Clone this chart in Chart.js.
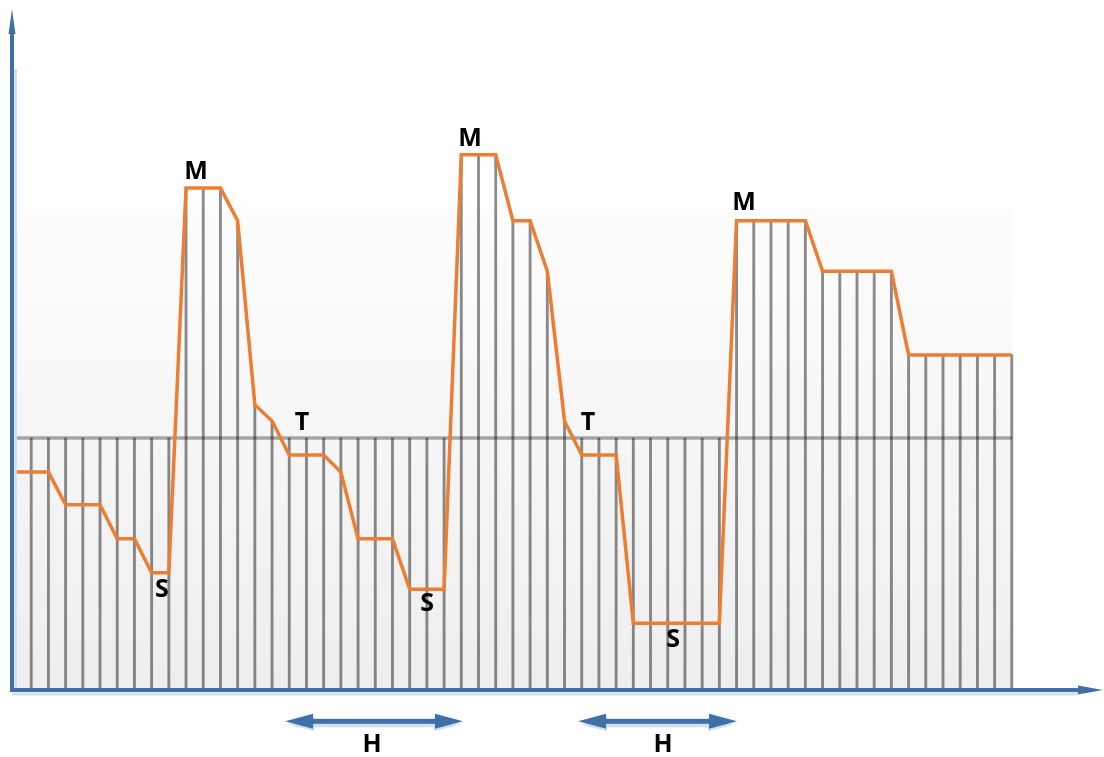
<!DOCTYPE html>
<html>
<head>
<meta charset="utf-8">
<script src="https://cdn.jsdelivr.net/npm/chart.js@4/dist/chart.umd.min.js"></script>
<style>
html,body{margin:0;padding:0;background:#fff;}
#wrap{width:1104px;height:757px;position:relative;}
</style>
</head>
<body>
<div id="wrap"><canvas id="c" width="1104" height="757"></canvas></div>
<script>
// ---- data (x = step index, y = level) ----
const steps = Array.from({length: 59}, (_, i) => i);
const levels = [
  32.0, 32.0, 32.0, 27.2, 27.2, 27.2, 22.2, 22.2, 17.2, 17.2,
  73.7, 73.7, 73.7, 68.9, 41.9, 39.5, 34.5, 34.5, 34.5, 32.0,
  22.2, 22.2, 22.2, 14.8, 14.8, 14.8, 78.6, 78.6, 78.6, 68.9,
  68.9, 61.5, 39.5, 34.5, 34.5, 34.5, 9.8, 9.8, 9.8, 9.8,
  9.8, 9.8, 68.9, 68.9, 68.9, 68.9, 68.9, 61.5, 61.5, 61.5,
  61.5, 61.5, 49.2, 49.2, 49.2, 49.2, 49.2, 49.2, 49.2
];
const threshold = 37.0;

// annotation letters (anchored in data units)
const labelTexts = ['M', 'M', 'M', 'S', 'S', 'S', 'T', 'T', 'H', 'H'];
const labelX = [10.58, 26.51, 42.44, 8.60, 24.01, 38.31, 16.74, 33.37, 20.81, 37.73];
const labelY = [76.1, 80.9, 71.5, 14.7, 12.6, 7.4, 39.2, 39.2, -8.1, -8.1];

// H spans (data units)
const spanStart = [15.76, 32.79];
const spanEnd = [26.10, 42.03];
const spanLevel = -4.6;

// ---- derived datasets ----
const linePts = steps.map((s, i) => ({x: s, y: levels[i]}));
const dropPts = steps.slice(1).map((s) => ({x: s, y: [0, Math.max(levels[s], threshold)]}));
const threshPts = [{x: steps[0], y: threshold}, {x: steps[steps.length - 1], y: threshold}];

const AXIS = '#3f71a9';
const AXIS_SHADOW = '#d3dfef';

function arrowHead(ctx, tipX, tipY, dirX, dirY, len, half) {
  const bx = tipX - dirX * len, by = tipY - dirY * len;
  const px = -dirY, py = dirX;
  ctx.beginPath();
  ctx.moveTo(tipX, tipY);
  ctx.lineTo(bx + px * half, by + py * half);
  ctx.lineTo(bx - px * half, by - py * half);
  ctx.closePath();
  ctx.fill();
}

const decor = {
  id: 'decor',
  beforeDatasetsDraw(chart) {
    const {ctx, scales: {x, y}} = chart;
    const x0 = x.getPixelForValue(steps[0]);
    const x1 = x.getPixelForValue(steps[steps.length - 1]);
    const yTop = y.getPixelForValue(71);
    const yBot = y.getPixelForValue(0);
    ctx.save();
    const g = ctx.createLinearGradient(0, yTop, 0, yBot);
    g.addColorStop(0, '#fdfdfd');
    g.addColorStop(1, '#eeeeee');
    ctx.fillStyle = g;
    ctx.fillRect(x0, yTop, x1 - x0, yBot - yTop);
    ctx.restore();
  },
  afterDatasetsDraw(chart) {
    const {ctx, chartArea: a, scales: {x, y}} = chart;
    const ax = a.left, ay = y.getPixelForValue(0);
    ctx.save();
    // shadows
    ctx.strokeStyle = AXIS_SHADOW;
    ctx.lineWidth = 3;
    ctx.beginPath();
    ctx.moveTo(ax + 3.5, ay); ctx.lineTo(ax + 3.5, a.top + 60);
    ctx.moveTo(ax, ay + 4); ctx.lineTo(a.right - 25, ay + 4);
    ctx.stroke();
    // axes
    ctx.strokeStyle = AXIS;
    ctx.fillStyle = AXIS;
    ctx.lineWidth = 4;
    ctx.beginPath();
    ctx.moveTo(ax, ay + 2); ctx.lineTo(ax, a.top + 22);
    ctx.moveTo(ax - 2, ay); ctx.lineTo(a.right - 22, ay);
    ctx.stroke();
    arrowHead(ctx, ax, a.top, 0, -1, 25, 3.5);
    arrowHead(ctx, a.right, ay, 1, 0, 25, 4.5);

    // H span arrows
    const sy = y.getPixelForValue(spanLevel);
    for (let i = 0; i < spanStart.length; i++) {
      const xs = x.getPixelForValue(spanStart[i]);
      const xe = x.getPixelForValue(spanEnd[i]);
      // shadow
      ctx.fillStyle = AXIS_SHADOW;
      ctx.fillRect(xs + 10, sy + 2, xe - xs - 20, 4);
      arrowHead(ctx, xs + 3, sy + 3, -1, 0, 26, 7);
      arrowHead(ctx, xe - 3, sy + 3, 1, 0, 26, 7);
      // body
      ctx.fillStyle = AXIS;
      ctx.fillRect(xs + 20, sy - 2.5, xe - xs - 40, 5);
      arrowHead(ctx, xs, sy, -1, 0, 28, 7.5);
      arrowHead(ctx, xe, sy, 1, 0, 28, 7.5);
    }

    // letters
    ctx.fillStyle = '#000';
    ctx.font = 'bold 25px "Open Sans", "DejaVu Sans", sans-serif';
    ctx.textAlign = 'center';
    ctx.textBaseline = 'middle';
    for (let i = 0; i < labelTexts.length; i++) {
      ctx.fillText(labelTexts[i], x.getPixelForValue(labelX[i]), y.getPixelForValue(labelY[i]));
    }
    ctx.restore();
  }
};

new Chart(document.getElementById('c'), {
  type: 'bar',
  data: {
    datasets: [
      {
        type: 'line',
        data: linePts,
        borderColor: '#ed7d31',
        borderWidth: 3.5,
        pointRadius: 0,
        tension: 0,
        order: 0
      },
      {
        type: 'line',
        data: threshPts,
        borderColor: 'rgba(0,0,0,0.33)',
        borderWidth: 3.5,
        pointRadius: 0,
        order: 1
      },
      {
        type: 'bar',
        data: dropPts,
        backgroundColor: 'rgba(0,0,0,0.45)',
        borderWidth: 0,
        barThickness: 2.2,
        grouped: false,
        order: 2
      }
    ]
  },
  options: {
    responsive: false,
    animation: false,
    devicePixelRatio: 1,
    layout: {padding: {left: 12, right: 1, top: 9, bottom: 67}},
    plugins: {legend: {display: false}, tooltip: {enabled: false}},
    scales: {
      x: {type: 'linear', display: false, min: -0.116, max: 63.3, offset: false},
      y: {type: 'linear', display: false, min: 0, max: 100}
    }
  },
  plugins: [decor]
});
</script>
</body>
</html>
